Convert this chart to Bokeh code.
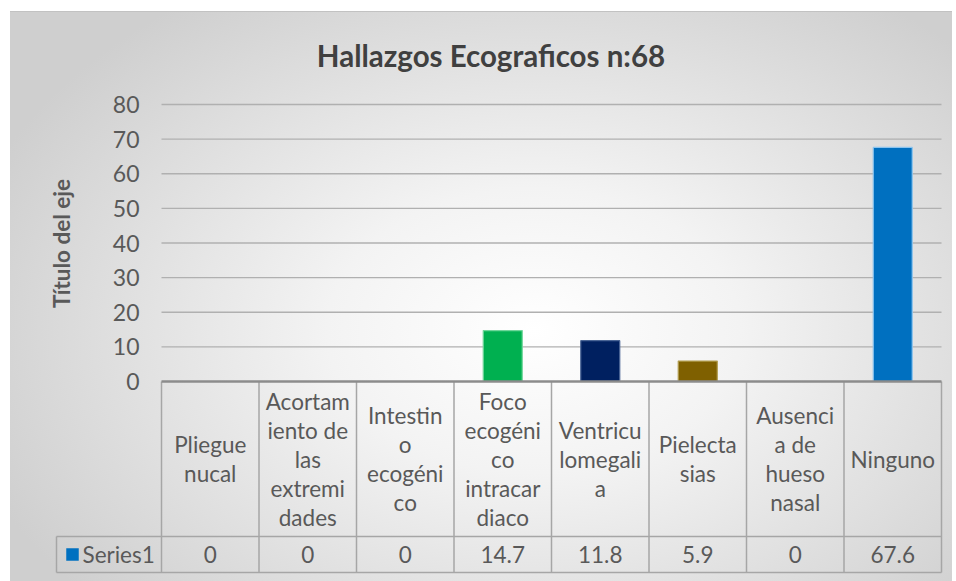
from bokeh.plotting import figure
from bokeh.models import Range1d, ColumnDataSource
from bokeh.core.properties import value
from bokeh.embed import file_html
from bokeh.resources import INLINE

# ---------------- data ----------------
title_text = "Hallazgos Ecograficos n:68"
y_axis_title = "Título del eje"
series_name = "Series1"
categories = ["Pliegue nucal", "Acortamiento de las extremidades", "Intestino ecogénico",
              "Foco ecogénico intracardiaco", "Ventriculomegalia", "Pielectasias",
              "Ausencia de hueso nasal", "Ninguno"]
category_lines = [["Pliegue", "nucal"],
                  ["Acortam", "iento de", "las", "extremi", "dades"],
                  ["Intestin", "o", "ecogéni", "co"],
                  ["Foco", "ecogéni", "co", "intracar", "diaco"],
                  ["Ventricu", "lomegali", "a"],
                  ["Pielecta", "sias"],
                  ["Ausenci", "a de", "hueso", "nasal"],
                  ["Ninguno"]]
values = [0, 0, 0, 14.7, 11.8, 5.9, 0, 67.6]
value_labels = ["0", "0", "0", "14.7", "11.8", "5.9", "0", "67.6"]
bar_colors = ["#0070C0", "#0070C0", "#0070C0", "#00B050", "#002060", "#7F6000", "#0070C0", "#0070C0"]
bar_outline = ["#5aa9e6", "#5aa9e6", "#5aa9e6", "#6fd69a", "#4a6596", "#b09a4c", "#5aa9e6", "#8cc4ee"]
y_ticks = [0, 10, 20, 30, 40, 50, 60, 70, 80]

# ---------------- layout (pixels in window) ----------------
W, H, OFF = 952, 581, 0
PL, PR = 161.0, 941.0          # plot area left/right
BASE, TOP80 = 381.0, 104.0     # y pixel of value 0 and 80
N = len(categories)
CW = (PR - PL) / N
PPU = (BASE - TOP80) / 80.0

def px2x(xw):
    return (xw - PL) / CW

def px2y(yw):
    return (BASE - yw) / PPU

FONT = value("Lato")
TXT = "#595959"
FS = "22.5px"

p = figure(width=W, height=H, output_backend="svg", toolbar_location=None,
           x_range=Range1d(px2x(OFF), px2x(OFF + W)),
           y_range=Range1d(px2y(OFF + H), px2y(OFF)),
           min_border=0, outline_line_color=None,
           background_fill_alpha=0, border_fill_alpha=0,
           styles={"background": "linear-gradient(#c2c2c2,#c2c2c2) 10px 11px / 100% 1px no-repeat, "
                                  "radial-gradient(ellipse 62% 70% at 55% 55%, #ffffff 0%, #f3f3f3 35%, #cfcfcf 100%) 10px 11px / 100% 100% no-repeat, "
                                  "#ffffff"})
p.xgrid.visible = False
p.ygrid.visible = False
p.xaxis.visible = False
p.yaxis.visible = False

# gridlines
grid_src = ColumnDataSource(dict(y=[t for t in y_ticks if t > 0]))
p.segment(x0=0, x1=N, y0="y", y1="y", source=grid_src, line_color="#b0b0b0", line_width=1.4)

# bars
xs = [i + 0.5 for i in range(N)]
bar_src = ColumnDataSource(dict(x=xs, top=values, color=bar_colors, line=bar_outline))
p.vbar(x="x", top="top", bottom=0, width=0.4, source=bar_src,
       fill_color="color", line_color="line", line_width=1.2)

# table
hdr_bottom = px2y(536)
tbl_bottom = px2y(572)
leg_left = px2x(56)
tcol = "#a6a6a6"
p.segment(x0=list(range(N + 1)), x1=list(range(N + 1)), y0=0, y1=tbl_bottom, line_color=tcol, line_width=1.5)
p.segment(x0=[leg_left, leg_left, leg_left], x1=[N, N, leg_left],
          y0=[hdr_bottom, tbl_bottom, hdr_bottom], y1=[hdr_bottom, tbl_bottom, tbl_bottom],
          line_color=tcol, line_width=1.5)
# baseline
p.segment(x0=0, x1=N, y0=0, y1=0, line_color="#8c8c8c", line_width=2.5)

# y tick labels
p.text(x=px2x(139), y=y_ticks, text=[str(t) for t in y_ticks], text_font=FONT,
       text_font_size="23px", text_color=TXT, text_align="right", text_baseline="middle")

# y axis title
p.text(x=px2x(61), y=px2y(243), text=[y_axis_title], angle=1.5708, text_font=FONT,
       text_font_size="22.5px", text_font_style="bold", text_color=TXT,
       text_align="center", text_baseline="middle")

# chart title
p.text(x=px2x(490.5), y=px2y(55), text=[title_text], text_font=FONT,
       text_font_size="29.5px", text_font_style="bold", text_color="#404040",
       text_align="center", text_baseline="middle")

# category labels in the data table
LS = 29
lx, ly, lt, lo = [], [], [], []
hdr_center = px2y(458.5)
for i, lines in enumerate(category_lines):
    n = len(lines)
    for j, s in enumerate(lines):
        lx.append(i + 0.5)
        ly.append(hdr_center)
        lt.append(s)
        lo.append((j - (n - 1) / 2) * LS)
p.text(x="x", y="y", text="t", y_offset="o", source=ColumnDataSource(dict(x=lx, y=ly, t=lt, o=lo)),
       text_font=FONT, text_font_size=FS, text_color=TXT, text_align="center", text_baseline="middle")

# value row
val_y = px2y(554)
p.text(x=xs, y=val_y, text=value_labels, text_font=FONT, text_font_size=FS,
       text_color=TXT, text_align="center", text_baseline="middle")

# legend key
p.scatter(x=[px2x(72)], y=[val_y], marker="square", size=12.5, fill_color=bar_colors[-1], line_color=None)
p.text(x=px2x(82), y=val_y, text=[series_name], text_font=FONT, text_font_size=FS,
       text_color=TXT, text_align="left", text_baseline="middle")

open("out.html", "w").write(file_html(p, INLINE))
